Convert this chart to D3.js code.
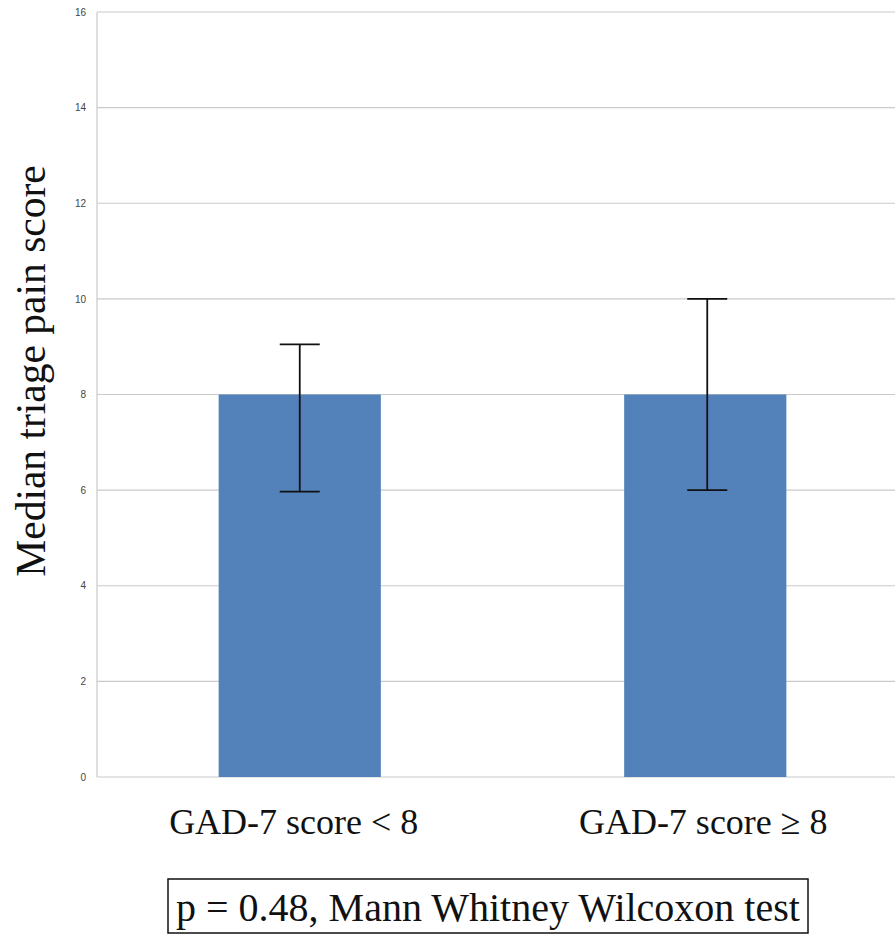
<!doctype html>
<head>
  <meta charset="utf-8">
  <script src="https://cdnjs.cloudflare.com/ajax/libs/d3/7.8.2/d3.min.js"></script>
</head>
<style>
    body { margin: 0; background: #fff; }
    svg { display: block; }
</style>
<body>
    <div id="chart"></div>
    <script>
        // Datos
        const groups = ["GAD-7 score < 8", "GAD-7 score \u2265 8"];
        const medians = [8, 8];
        const lowErr = [5.97, 6];
        const highErr = [9.05, 10];
        const yTicks = [0, 2, 4, 6, 8, 10, 12, 14, 16];
        const note = "p = 0.48, Mann Whitney Wilcoxon test";

        const width = 895, height = 935;
        const margin = {top: 12, left: 97, bottom: 158};
        const serif = 'Liberation Serif, Times New Roman, serif';

        const svg = d3.select('#chart').append('svg')
            .attr('width', width)
            .attr('height', height);

        const y = d3.scaleLinear()
            .domain([0, 16])
            .range([height - margin.bottom, margin.top]);

        const x = d3.scaleBand()
            .domain(groups)
            .range([margin.left, 908])
            .paddingInner(0.6)
            .paddingOuter(0.3);

        // Rejilla
        svg.append('g')
            .selectAll('line')
            .data(yTicks)
            .join('line')
            .attr('x1', margin.left)
            .attr('x2', width)
            .attr('y1', d => y(d))
            .attr('y2', d => y(d))
            .attr('stroke', '#cacaca')
            .attr('stroke-width', 1.2);

        // Eje izquierdo
        svg.append('line')
            .attr('x1', margin.left).attr('x2', margin.left)
            .attr('y1', y(16)).attr('y2', y(0))
            .attr('stroke', '#cacaca')
            .attr('stroke-width', 1.2);

        const yAxis = svg.append('g')
            .attr('transform', `translate(${margin.left - 11},0)`)
            .call(d3.axisLeft(y).tickValues(yTicks).tickSize(0).tickPadding(0));
        yAxis.select('.domain').remove();
        yAxis.selectAll('text')
            .attr('font-family', 'Liberation Sans, Arial, sans-serif')
            .attr('font-size', 10)
            .attr('fill', '#444');

        // Barras
        svg.append('g')
            .selectAll('rect')
            .data(groups)
            .join('rect')
            .attr('x', d => x(d))
            .attr('width', x.bandwidth())
            .attr('y', (d, i) => y(medians[i]))
            .attr('height', (d, i) => y(0) - y(medians[i]))
            .attr('fill', '#5382bb');

        // Barras de error
        const eb = svg.append('g')
            .attr('stroke', '#111')
            .attr('stroke-width', 1.8);
        groups.forEach((g, i) => {
            const cx = x(g) + x.bandwidth() / 2 + i * 2;
            eb.append('line')
                .attr('x1', cx).attr('x2', cx)
                .attr('y1', y(highErr[i])).attr('y2', y(lowErr[i]));
            [highErr[i], lowErr[i]].forEach(v => {
                eb.append('line')
                    .attr('x1', cx - 20).attr('x2', cx + 20)
                    .attr('y1', y(v)).attr('y2', y(v));
            });
        });

        // Etiquetas de categorías
        svg.append('g')
            .selectAll('text')
            .data(groups)
            .join('text')
            .attr('x', (d, i) => x(d) + x.bandwidth() / 2 - (i === 0 ? 6 : 2))
            .attr('y', 834)
            .attr('text-anchor', 'middle')
            .attr('font-family', serif)
            .attr('font-size', 36)
            .attr('fill', '#111')
            .text(d => d);

        // Título eje Y
        svg.append('text')
            .attr('transform', 'translate(45, 371) rotate(-90)')
            .attr('text-anchor', 'middle')
            .attr('font-family', serif)
            .attr('font-size', 41.5)
            .attr('fill', '#111')
            .text('Median triage pain score');

        // Nota con recuadro
        svg.append('rect')
            .attr('x', 168).attr('y', 879)
            .attr('width', 640).attr('height', 54)
            .attr('fill', 'none')
            .attr('stroke', '#111')
            .attr('stroke-width', 1.5);
        svg.append('text')
            .attr('x', 488)
            .attr('y', 921)
            .attr('text-anchor', 'middle')
            .attr('font-family', serif)
            .attr('font-size', 40)
            .attr('fill', '#111')
            .text(note);
    </script>
</body>
